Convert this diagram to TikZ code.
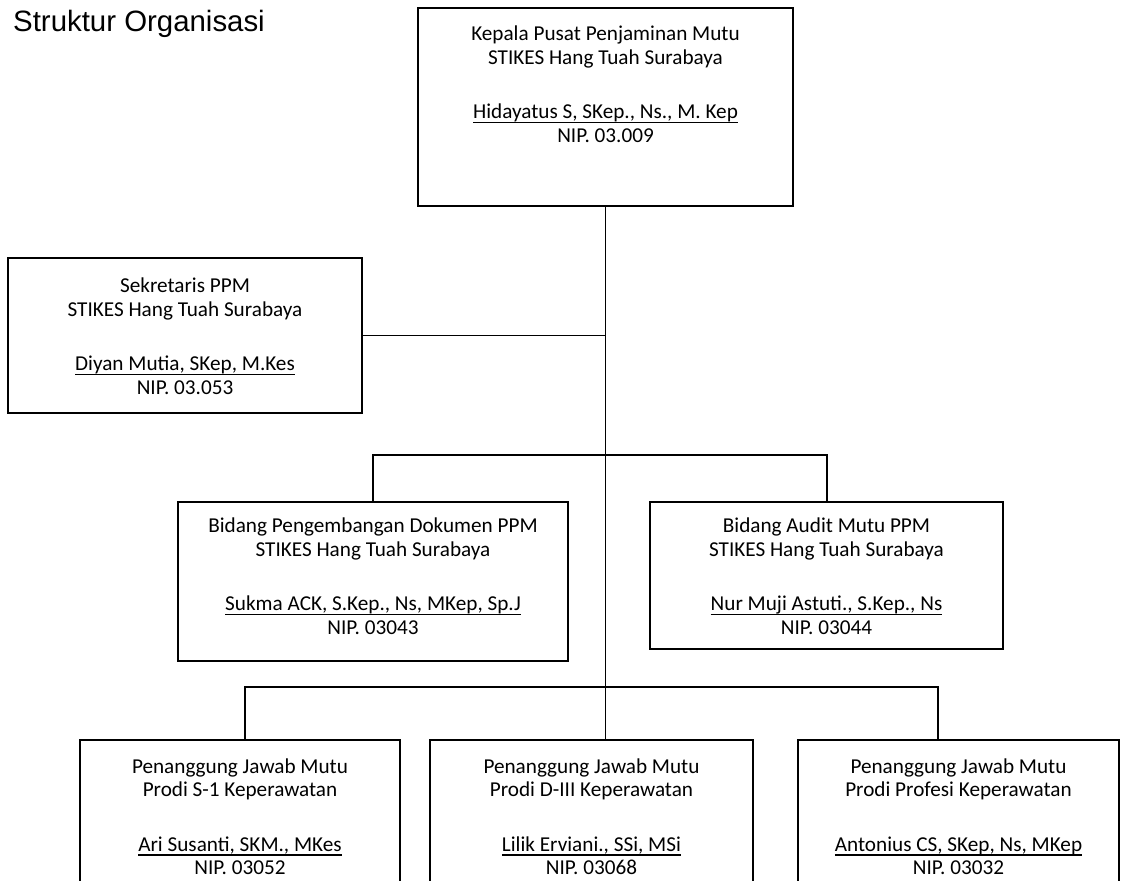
\documentclass[tikz,border=0pt]{standalone}
\usepackage{fontspec}
\setmainfont{Carlito}
\newfontfamily\titlefont{Liberation Sans}
\newcommand{\ulname}[1]{\leavevmode\setbox0=\hbox{#1}\rlap{\rule[-4.5pt]{\wd0}{1.4pt}}\box0}
\begin{document}
\begin{tikzpicture}[x=1pt,y=-1pt,
  box/.style={draw, line width=1.8pt, inner sep=0pt},
  txt/.style={anchor=north, align=center, inner sep=0pt, font=\fontsize{21.2}{23.5}\selectfont},
  conn/.style={line width=1.8pt}]
\useasboundingbox (0,0) rectangle (1125,881);
\clip (0,0) rectangle (1125,881);
% title
\node[anchor=base west, inner sep=0pt, font=\titlefont\fontsize{29.4}{31}\selectfont] (title) at (13,31.5) {Struktur Organisasi};
% boxes
\node[box, minimum width=375pt, minimum height=198pt] (kepala) at (605.5,107) {};
\node[box, minimum width=354pt, minimum height=155pt] (sek) at (185,335.5) {};
\node[box, minimum width=390pt, minimum height=159pt] (dok) at (373,581.5) {};
\node[box, minimum width=353pt, minimum height=147pt] (audit) at (826.5,575.5) {};
\node[box, minimum width=320pt, minimum height=160pt] (pjl) at (240,820) {};
\node[box, minimum width=323pt, minimum height=160pt] (pjm) at (591.5,820) {};
\node[box, minimum width=321pt, minimum height=160pt] (pjr) at (958.5,820) {};
% texts
\node[txt] (kepalaT) at ([yshift=-18.5pt]kepala.north) {Kepala Pusat Penjaminan Mutu\\STIKES Hang Tuah Surabaya\\[31pt]\ulname{Hidayatus S, SKep., Ns., M. Kep}\\NIP. 03.009};
\node[txt] (sekT) at ([yshift=-20.5pt]sek.north) {Sekretaris PPM\\STIKES Hang Tuah Surabaya\\[31pt]\ulname{Diyan Mutia, SKep, M.Kes}\\NIP. 03.053};
\node[txt] (dokT) at ([yshift=-16.5pt]dok.north) {Bidang Pengembangan Dokumen PPM\\STIKES Hang Tuah Surabaya\\[31pt]\ulname{Sukma ACK, S.Kep., Ns, MKep, Sp.J}\\NIP. 03043};
\node[txt] (auditT) at ([yshift=-16.5pt]audit.north) {Bidang Audit Mutu PPM\\STIKES Hang Tuah Surabaya\\[31pt]\ulname{Nur Muji Astuti., S.Kep., Ns}\\NIP. 03044};
\node[txt] (pjlT) at ([yshift=-19pt]pjl.north) {Penanggung Jawab Mutu\\Prodi S-1 Keperawatan\\[31pt]\ulname{Ari Susanti, SKM., MKes}\\NIP. 03052};
\node[txt] (pjmT) at ([yshift=-19pt]pjm.north) {Penanggung Jawab Mutu\\Prodi D-III Keperawatan\\[31pt]\ulname{Lilik Erviani., SSi, MSi}\\NIP. 03068};
\node[txt] (pjrT) at ([yshift=-19pt]pjr.north) {Penanggung Jawab Mutu\\Prodi Profesi Keperawatan\\[31pt]\ulname{Antonius CS, SKep, Ns, MKep}\\NIP. 03032};
% connectors
\draw[conn] (kepala.south) -- (kepala.south |- pjm.north);
\coordinate (secJ) at (kepala.south |- sek.east);
\draw[conn] (sek.east) -- (secJ);
\coordinate (b1L) at (373,455);
\coordinate (b1R) at (827,455);
\draw[conn] (dok.north) -- (b1L) -- (b1R) -- (b1R |- audit.north);
\coordinate (b2L) at (245,687);
\coordinate (b2R) at (938,687);
\draw[conn] (b2L |- pjl.north) -- (b2L) -- (b2R) -- (b2R |- pjr.north);
\end{tikzpicture}
\end{document}
